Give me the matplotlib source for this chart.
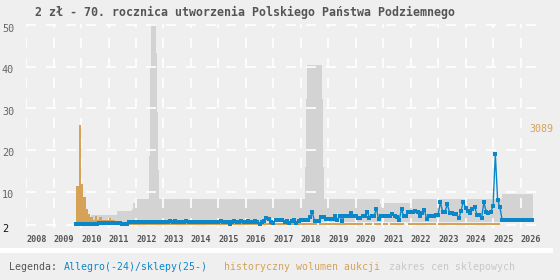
import numpy as np
import matplotlib
matplotlib.use("Agg")
import matplotlib.pyplot as plt
from matplotlib.patches import Rectangle

plt.rcParams['font.family'] = ['DejaVu Sans Mono', 'DejaVu Sans']
plt.rcParams['lines.scale_dashes'] = False

title = "2 zł - 70. rocznica utworzenia Polskiego Państwa Podziemnego"

# ---- Allegro monthly prices (Nov 2009 .. Jun 2026) ----
allegro_start = 2009 + 10 / 12
allegro_price = [
    2.25, 2.25,
    2.25, 2.25, 2.25, 2.25, 2.25, 2.25, 2.25, 2.25, 2.5, 2.5, 2.5, 2.5,
    2.5, 2.5, 2.5, 2.6, 2.6, 2.6, 2.3, 2.3, 2.3, 2.65, 2.65, 2.65,
    2.65, 2.65, 2.65, 2.65, 2.65, 2.65, 2.65, 2.65, 2.65, 2.65, 2.65, 2.65,
    2.65, 2.65, 2.65, 2.95, 2.65, 2.95, 2.65, 2.65, 2.65, 2.65, 2.95, 2.65,
    2.65, 2.65, 2.65, 2.65, 2.65, 2.65, 2.65, 2.65, 2.65, 2.65, 2.65, 2.65,
    2.65, 2.95, 2.65, 2.65, 2.65, 2.25, 2.65, 2.95, 2.65, 2.65, 2.95, 2.65,
    2.65, 2.95, 2.65, 2.65, 2.95, 2.65, 2.25, 2.65, 2.95, 3.6, 3.4, 2.65,
    2.55, 3.2, 3.1, 3.15, 3.1, 2.7, 2.9, 2.55, 2.9, 3.1, 2.4, 2.95,
    3.1, 3.1, 3.1, 3.1, 3.85, 5.1, 2.9, 2.9, 2.9, 3.85, 4.0, 3.4,
    3.4, 3.4, 3.4, 4.25, 3.2, 4.25, 2.9, 4.25, 4.25, 4.25, 4.8, 4.25,
    4.15, 3.6, 3.8, 4.05, 4.05, 5.2, 3.8, 4.05, 4.05, 5.9, 3.45, 4.05,
    4.05, 4.05, 4.15, 4.15, 4.55, 4.05, 3.95, 3.2, 5.85, 4.05, 4.05, 5.2,
    5.2, 5.2, 5.3, 5.2, 4.05, 5.0, 5.6, 3.45, 4.05, 4.05, 4.2, 4.5,
    4.5, 7.5, 5.1, 5.2, 7.0, 5.0, 4.8, 4.7, 4.6, 3.6, 5.35, 7.6,
    6.2, 5.3, 4.8, 5.8, 6.25, 4.4, 4.4, 3.75, 7.45, 5.2, 4.8, 5.2,
    6.55, 19.0, 8.0, 6.25, 3.1, 3.1, 3.1, 3.1, 3.1, 3.1, 3.1, 3.1,
    3.1, 3.1, 3.1, 3.1, 3.1, 3.1,
]

# ---- historical auction volume, monthly (Nov 2009 .. Mar 2025) ----
volume_start = 2009 + 10 / 12
volume = [
    1210, 3089,
    1261, 862, 489, 335, 245, 154, 283, 154, 245, 154, 154, 154,
    219, 154, 154, 60, 55, 62, 58, 54, 60, 56, 52, 58,
    56, 54, 60, 52, 56, 58, 54, 60, 56, 52, 58, 54,
    56, 52, 58, 56, 60, 85, 56, 54, 58, 52, 85, 56,
    54, 58, 56, 52, 60, 56, 54, 58, 52, 56, 60, 54,
    56, 85, 54, 58, 52, 56, 60, 54, 56, 58, 52, 56,
    58, 54, 56, 52, 60, 56, 54, 58, 56, 52, 60, 54,
    56, 58, 52, 56, 60, 54, 56, 58, 52, 56, 54, 60,
    56, 52, 58, 54, 56, 60, 52, 0, 56, 58, 54, 56,
    54, 58, 56, 52, 60, 56, 54, 58, 56, 52, 60, 56,
    54, 58, 56, 0, 52, 56, 60, 0, 54, 56, 58, 0,
    56, 54, 0, 58, 52, 56, 60, 54, 56, 0, 0, 54,
    58, 56, 52, 60, 54, 56, 58, 52, 56, 60, 54, 0,
    56, 58, 54, 52, 60, 56, 54, 58, 56, 52, 60, 54,
    56, 58, 52, 60, 54, 56, 58, 54, 52, 60, 56, 54,
    56, 58, 54,
]

# ---- shop price range (step edges) ----
shop_dates = [2010.36, 2011.30, 2011.85, 2011.90, 2011.97, 2012.48, 2012.51,
              2012.55, 2012.73, 2012.77, 2012.79, 2012.84, 2018.15, 2018.18,
              2018.21, 2018.76, 2018.80, 2018.84, 2020.87, 2020.90, 2020.93,
              2021.00, 2021.04, 2022.00, 2025.33, 2026.44]
shop_max = [4.4, 5.4, 5.8, 7.35, 8.2, 18.6, 40.0, 52.0, 43.2, 29.2, 15.2, 8.2,
            16.0, 32.2, 40.4, 32.2, 16.0, 8.2, 7.6, 7.0, 6.4, 6.8, 7.4, 8.2,
            9.4, 9.4]
shop_min = [2.65, 2.65, 2.65, 2.65, 2.65, 2.65, 2.65, 2.65, 2.65, 2.65, 2.65,
            2.65, 2.65, 2.65, 2.65, 2.65, 2.65, 2.65, 2.65, 2.65, 2.65, 2.65,
            2.65, 2.65, 2.65, 2.65]

years = list(range(2008, 2027))
year_labels = [str(y) for y in years]
y_ticks = [2, 10, 20, 30, 40, 50]
y_labels = ["2", "10", "20", "30", "40", "50"]

legend_intro = "Legenda:"
legend_allegro = "Allegro(-24)/sklepy(25-)"
legend_volume = "historyczny wolumen aukcji"
legend_range = "zakres cen sklepowych"

BG = "#efefef"
GRAY = "#d3d3d3"
BLUE = "#0a87c9"
ORANGE = "#d5a257"
TXT = "#555555"

W, H = 560, 280
fig = plt.figure(figsize=(W / 100, H / 100), dpi=100, facecolor=BG)
ax = fig.add_axes([26 / W, 1 - 228 / H, (537 - 26) / W, (228 - 24) / H])
ax.set_facecolor(BG)
ylo, yhi = 1.28, 50.24
ax.set_xlim(2007.995, 2026.6)
ax.set_ylim(ylo, yhi)

# shop range
ax.fill_between(shop_dates, shop_min, shop_max, step='post', color=GRAY,
                lw=0, zorder=1)

ax.set_xticks(years)
ax.set_xticklabels(year_labels)
ax.set_yticks(y_ticks)
ax.tick_params(axis='y', length=0, labelleft=False)
ax.tick_params(axis='x', length=0, pad=5.0, labelsize=6.1, labelcolor=TXT)
for lbl in ax.get_xticklabels():
    lbl.set_horizontalalignment('left')
    lbl.set_fontweight('bold')
ax.grid(True, color='white', lw=1.2, ls=(0, (7.2, 7.2)))
ax.set_axisbelow('line')
for s in ax.spines.values():
    s.set_visible(False)

for v, t in zip(y_ticks, y_labels):
    ax.annotate(t, xy=(0, v), xycoords=('axes fraction', 'data'),
                xytext=(-24, -3.5), textcoords='offset pixels',
                ha='left', va='center', fontsize=7.3,
                color='#111111' if v == 2 else '#666666')

# volume on twin axis
vol_max = max(volume)
k = vol_max / 24.0
ax2 = ax.twinx()
vol_x = volume_start + np.arange(len(volume)) / 12
ax2.bar(vol_x, volume, width=1 / 12, align='edge', color=ORANGE, lw=0)

allegro_x = allegro_start + np.arange(len(allegro_price)) / 12
ax2.plot(allegro_x, allegro_price, transform=ax.transData, color=BLUE,
         lw=1.0, marker='s', ms=2.3, mew=0, solid_joinstyle='miter')

ax2.set_ylim((ylo - 2) * k, (yhi - 2) * k)
ax2.set_xlim(ax.get_xlim())
ax2.set_yticks([])
for s in ax2.spines.values():
    s.set_visible(False)

ax2.annotate(str(vol_max), xy=(1, vol_max), xycoords=('axes fraction', 'data'),
             xytext=(-7.7, -4), textcoords='offset pixels', ha='left',
             va='center', fontsize=7.2, color=ORANGE)

# title
fig.text(35 / W, 1 - 12.5 / H, title, ha='left', va='center', fontsize=8.4,
         fontweight='bold', color=TXT)

# separator stripe
fig.add_artist(Rectangle((0, 1 - 253.3 / H), 553 / W, 5 / H,
                         transform=fig.transFigure, color='white', lw=0))

# legend
ly = 1 - 266.7 / H
fig.text(9.3 / W, ly, legend_intro, ha='left', va='center', fontsize=7.1, color=TXT)
fig.text(64.3 / W, ly, legend_allegro, ha='left', va='center', fontsize=7.1, color=BLUE)
fig.text(224.3 / W, ly, legend_volume, ha='left', va='center', fontsize=7.1, color=ORANGE)
fig.text(389.3 / W, ly, legend_range, ha='left', va='center', fontsize=7.1, color='#c8c8c8')

fig.savefig("out.png", dpi=100, facecolor=BG)
